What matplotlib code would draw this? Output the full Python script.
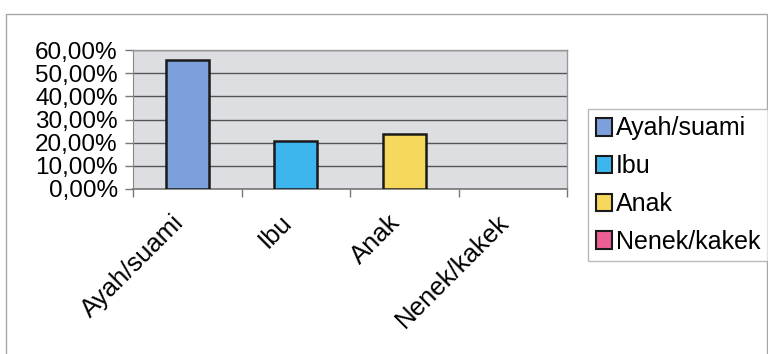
import matplotlib
matplotlib.use("Agg")
import matplotlib.pyplot as plt
from matplotlib.patches import Patch, Rectangle
import matplotlib.transforms as mtransforms
import numpy as np

categories = ["Ayah/suami", "Ibu", "Anak", "Nenek/kakek"]
values = [0.556, 0.208, 0.236, 0.0]
colors = ["#7d9fdc", "#3db6ee", "#f6d85c", "#ec5f95"]
yticks = [0.0, 0.1, 0.2, 0.3, 0.4, 0.5, 0.6]
ytick_labels = ["0,00%", "10,00%", "20,00%", "30,00%", "40,00%", "50,00%", "60,00%"]

plt.rcParams['font.family'] = ['Liberation Sans', 'DejaVu Sans']

fig = plt.figure(figsize=(7.68, 3.54), dpi=100)
fig.patch.set_facecolor("white")

# outer chart frame
fig.patches.append(Rectangle((6/768, -0.05), 761/768, 1 - 14/354 + 0.05,
                             transform=fig.transFigure, fill=False,
                             edgecolor="#a8a8a8", linewidth=1.0))

ax = fig.add_axes([133/768, 1 - 189/354, 434/768, 139/354])
ax.set_facecolor("#dcdee2")
x = np.arange(len(categories))
edges = ["#1a1a1a" if v > 0 else "none" for v in values]
ax.bar(x, values, width=0.4, color=colors, edgecolor=edges, linewidth=1.8, zorder=3)

ax.set_xlim(-0.5, len(categories) - 0.5)
ax.set_ylim(0, 0.6)
ax.set_yticks(yticks)
ax.set_yticklabels(ytick_labels, fontsize=17.5)
ax.yaxis.grid(True, color="#555555", linewidth=1.0, zorder=1)
ax.tick_params(axis='y', length=6, width=1, color="#777777", pad=5)

ax.set_xticks(x)
ax.set_xticklabels(categories, rotation=45, ha='right', va='top',
                   rotation_mode='anchor', fontsize=18.5)
ax.tick_params(axis='x', which='major', length=0, pad=15)
offset = mtransforms.ScaledTranslation(-16/100, 0, fig.dpi_scale_trans)
for lbl in ax.get_xticklabels():
    lbl.set_transform(lbl.get_transform() + offset)
ax.set_xticks(np.arange(-0.5, len(categories), 1.0), minor=True)
ax.tick_params(axis='x', which='minor', length=6, width=1, color="#777777")

for s in ["top", "right"]:
    ax.spines[s].set_color("#999999")
    ax.spines[s].set_linewidth(1.0)
ax.spines["left"].set_color("#888888")
ax.spines["bottom"].set_color("#777777")
ax.spines["bottom"].set_linewidth(1.2)

handles = [Patch(facecolor=c, edgecolor="#1a1a1a", linewidth=1.5) for c in colors]
leg = fig.legend(handles, categories, loc='upper left',
                 bbox_to_anchor=(588/768, 1 - 109/354), bbox_transform=fig.transFigure,
                 fontsize=18, frameon=True, fancybox=False, edgecolor="#a8a8a8",
                 handlelength=0.65, handleheight=0.7, handletextpad=0.15,
                 labelspacing=0.55, borderpad=0.3, borderaxespad=0.0)
leg.get_frame().set_linewidth(1.0)

fig.savefig("out.png", dpi=100, facecolor="white")
